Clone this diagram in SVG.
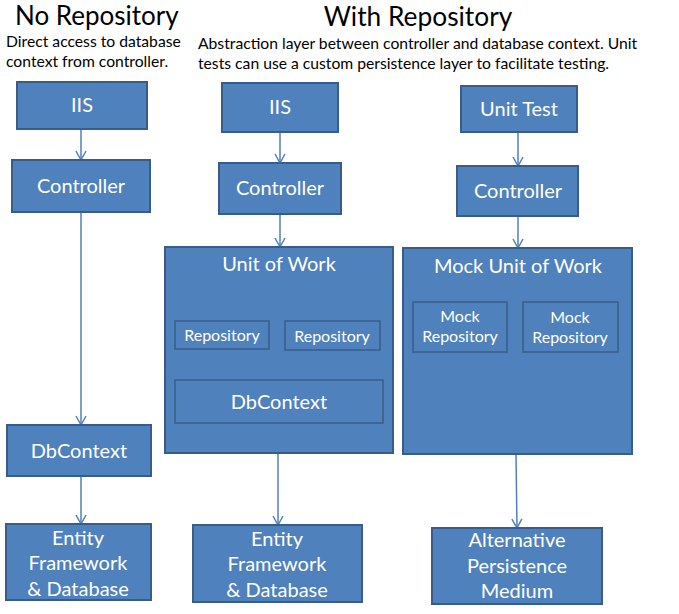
<svg xmlns="http://www.w3.org/2000/svg" width="679" height="614" viewBox="0 0 679 614">
<defs>
<marker id="arr" viewBox="0 0 12 12" refX="10" refY="6" markerWidth="12" markerHeight="12" markerUnits="userSpaceOnUse" orient="auto">
<path d="M1,1 L10,6 L1,11" fill="none" stroke="#4F81BD" stroke-width="1.5"/>
</marker>
<style>
.b{fill:#4F81BD;stroke:#385D8A;stroke-width:2}
.i{fill:#4F81BD;stroke:#385D8A;stroke-width:1.5}
.t{font-family:Lato,"Open Sans",sans-serif;fill:#fff;text-anchor:middle;font-size:20px}
.s{font-size:16px}
.h{font-family:Lato,"Open Sans",sans-serif;fill:#000}
.c{stroke:#4F81BD;stroke-width:1.5;fill:none;marker-end:url(#arr)}
</style>
</defs>
<rect width="679" height="614" fill="#fff"/>
<g id="titles">
<text class="h" x="15" y="25" font-size="26">No Repository</text>
<text class="h" x="6" y="47" font-size="15.7">Direct access to database</text>
<text class="h" x="6" y="67" font-size="15.7">context from controller.</text>
<text class="h" x="418" y="26" font-size="26.3" text-anchor="middle">With Repository</text>
<text class="h" x="198" y="49" font-size="15.7">Abstraction layer between controller and database context. Unit</text>
<text class="h" x="198" y="69" font-size="15.7">tests can use a custom persistence layer to facilitate testing.</text>
</g>
<g id="connectors">
<line class="c" x1="81" y1="129" x2="81" y2="160"/>
<line class="c" x1="81" y1="212" x2="81" y2="425"/>
<line class="c" x1="81" y1="476" x2="81" y2="524"/>
<line class="c" x1="280" y1="132" x2="280" y2="163"/>
<line class="c" x1="280" y1="214" x2="280" y2="247"/>
<line class="c" x1="278" y1="453" x2="278" y2="525"/>
<line class="c" x1="518" y1="132" x2="518" y2="166"/>
<line class="c" x1="518" y1="216" x2="518" y2="248"/>
<line class="c" x1="516" y1="454" x2="517" y2="528"/>
</g>
<g id="iis-left"><rect class="b" x="17" y="82" width="130" height="47"/><text class="t" x="82" y="112">IIS</text></g>
<g id="controller-left"><rect class="b" x="12" y="160" width="138" height="52"/><text class="t" x="81" y="193">Controller</text></g>
<g id="dbcontext-left"><rect class="b" x="7" y="425" width="144" height="51"/><text class="t" x="79" y="458">DbContext</text></g>
<g id="ef-left"><rect class="b" x="6" y="524" width="145" height="76"/>
<text class="t" x="78" y="545">Entity</text><text class="t" x="78" y="570">Framework</text><text class="t" x="78" y="596">&amp; Database</text></g>
<g id="iis-mid"><rect class="b" x="222" y="83" width="116" height="49"/><text class="t" x="280" y="114">IIS</text></g>
<g id="controller-mid"><rect class="b" x="219" y="163" width="122" height="51"/><text class="t" x="280" y="195">Controller</text></g>
<g id="uow"><rect class="b" x="165" y="247" width="228" height="206"/><text class="t" x="279" y="271">Unit of Work</text>
<rect class="i" x="175" y="321" width="94" height="28"/><text class="t s" x="222" y="341">Repository</text>
<rect class="i" x="285" y="321" width="95" height="29"/><text class="t s" x="332" y="342">Repository</text>
<rect class="i" x="175" y="380" width="208" height="43"/><text class="t" x="279" y="409">DbContext</text></g>
<g id="ef-mid"><rect class="b" x="193" y="525" width="169" height="77"/>
<text class="t" x="277" y="546">Entity</text><text class="t" x="277" y="571">Framework</text><text class="t" x="277" y="597">&amp; Database</text></g>
<g id="unit-test"><rect class="b" x="461" y="86" width="116" height="46"/><text class="t" x="519" y="116">Unit Test</text></g>
<g id="controller-right"><rect class="b" x="457" y="166" width="121" height="50"/><text class="t" x="518" y="198">Controller</text></g>
<g id="mock-uow"><rect class="b" x="403" y="248" width="229" height="206"/><text class="t" x="518" y="273">Mock Unit of Work</text>
<rect class="i" x="413" y="302" width="94" height="50"/><text class="t s" x="460" y="322">Mock</text><text class="t s" x="460" y="342">Repository</text>
<rect class="i" x="523" y="302" width="95" height="50"/><text class="t s" x="570" y="323">Mock</text><text class="t s" x="570" y="343">Repository</text></g>
<g id="alt"><rect class="b" x="432" y="528" width="170" height="76"/>
<text class="t" x="517" y="547">Alternative</text><text class="t" x="517" y="573">Persistence</text><text class="t" x="517" y="598">Medium</text></g>
</svg>
